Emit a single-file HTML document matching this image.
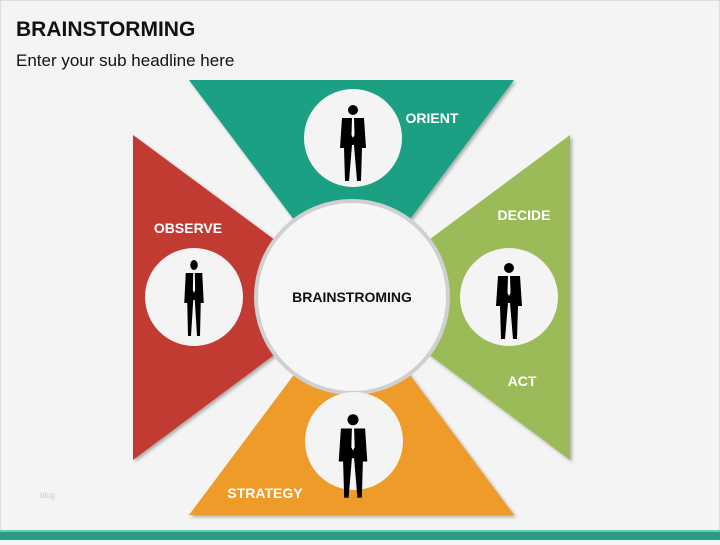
<!DOCTYPE html>
<html><head><style>
body{margin:0;width:720px;height:540px;overflow:hidden;background:#f4f4f4;font-family:"Liberation Sans",sans-serif}
</style></head><body>
<svg width="720" height="540" viewBox="0 0 720 540" xmlns="http://www.w3.org/2000/svg">
<defs>
<filter id="sh" x="-20%" y="-20%" width="140%" height="140%"><feDropShadow dx="2" dy="2" stdDeviation="1.5" flood-color="#000" flood-opacity="0.3"/></filter>
<g id="man">
<circle cx="0" cy="-33" r="5"/>
<path d="M-11,-25 L11,-25 L13,5 L9,5 L8,38 L4,38 L1,2 L-1,2 L-4,38 L-8,38 L-9,5 L-13,5 Z"/>
<path d="M-1,-25 L1,-25 L1.5,-8 L0,-5 L-1.5,-8Z" fill="#fff"/>
</g>
</defs>
<rect x="0.5" y="0.5" width="719" height="539" fill="#f4f4f4" stroke="#ddd"/>
<text x="16" y="36" font-size="21" font-weight="bold" fill="#111">BRAINSTORMING</text>
<text x="16" y="66" font-size="17" fill="#111">Enter your sub headline here</text>
<rect x="0" y="531" width="720" height="9" fill="#2a9a80"/>
<rect x="0" y="530" width="720" height="2" fill="#5fcfb0"/>
<g filter="url(#sh)">
<polygon points="189,80 514,80 352,297" fill="#1fa084"/>
<polygon points="133,135 133,460 352,297" fill="#c23a30"/>
<polygon points="570,135 570,460 352,297" fill="#9bbb59"/>
<polygon points="189,515 514,515 352,297" fill="#ee9b2a"/>
</g>
<circle cx="352" cy="297" r="96" fill="#f6f6f6" stroke="#d0d0d0" stroke-width="4"/>
<circle cx="353" cy="138" r="49" fill="#f4f4f4"/>
<circle cx="194" cy="297" r="49" fill="#f4f4f4"/>
<circle cx="509" cy="297" r="49" fill="#f4f4f4"/>
<circle cx="354" cy="441" r="49" fill="#f4f4f4"/>
<use href="#man" x="353" y="143"/>
<use href="#man" x="194" y="298" transform="translate(194 298) scale(0.75 1) translate(-194 -298)"/>
<use href="#man" x="509" y="301"/>
<use href="#man" x="353" y="456" transform="translate(353 456) scale(1.1) translate(-353 -456)"/>
<g font-size="14" font-weight="bold" fill="#fff">
<text x="432" y="123" text-anchor="middle">ORIENT</text>
<text x="524" y="220" text-anchor="middle">DECIDE</text>
<text x="522" y="386" text-anchor="middle">ACT</text>
<text x="188" y="233" text-anchor="middle">OBSERVE</text>
<text x="265" y="498" text-anchor="middle">STRATEGY</text>
</g>
<text x="352" y="302" font-size="14" font-weight="bold" fill="#111" text-anchor="middle">BRAINSTROMING</text>
<text x="40" y="498" font-size="8" fill="#ccc">blog</text>
</svg>
</body></html>
